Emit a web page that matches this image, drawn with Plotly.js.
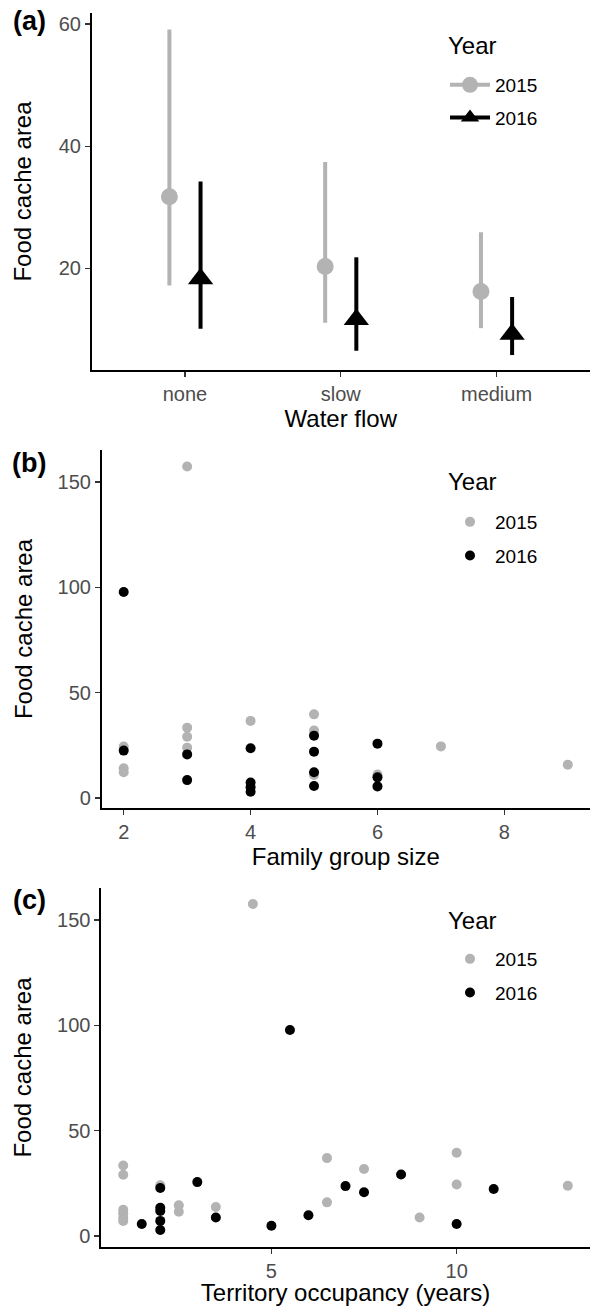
<!DOCTYPE html>
<html>
<head>
<meta charset="utf-8">
<script src="https://cdn.plot.ly/plotly-3.0.1.min.js"></script>
<style>html,body{margin:0;padding:0;background:#fff}#chart{width:590px;height:1306px}</style>
</head>
<body>
<div id="chart"></div>
<script>
// ---------- Panel (a): food cache area by water flow ----------
const flowLevels = ['none', 'slow', 'medium'];
const mean2015 = [31.7, 20.3, 16.2];
const lo2015   = [17.2, 11.1, 10.2];
const hi2015   = [59.1, 37.4, 25.9];
const mean2016 = [18.3, 11.6, 9.2];
const lo2016   = [10.1, 6.5, 5.8];
const hi2016   = [34.2, 21.8, 15.3];

// ---------- Panel (b): family group size ----------
const fam2015x = [2, 2, 2, 3, 3, 3, 3, 4, 5, 5, 5, 6, 7, 9];
const fam2015y = [24.4, 14.1, 12.2, 157.4, 33.4, 29.1, 23.9, 36.6, 39.7, 32.0, 10.9, 11.1, 24.5, 15.8];
const fam2016x = [2, 2, 3, 3, 4, 4, 4, 4, 5, 5, 5, 5, 6, 6, 6];
const fam2016y = [97.8, 22.5, 20.7, 8.5, 23.6, 7.3, 5.1, 3.0, 29.6, 22.0, 12.2, 5.7, 25.8, 9.8, 5.5];

// ---------- Panel (c): territory occupancy ----------
const occ2015x = [1, 1, 1, 1, 1, 1, 2, 2.5, 2.5, 3.5, 4.5, 6.5, 6.5, 7.5, 9, 10, 10, 13];
const occ2015y = [33.5, 29.1, 12.5, 10.8, 8.7, 7.2, 24.1, 14.6, 11.5, 13.8, 157.6, 37.0, 16.0, 31.8, 8.8, 39.5, 24.5, 23.9];
const occ2016x = [1.5, 2, 2, 2, 2, 2, 3, 3.5, 5, 5.5, 6, 7, 7.5, 8.5, 10, 11];
const occ2016y = [5.7, 22.8, 13.4, 11.9, 7.2, 2.9, 25.6, 8.8, 4.9, 97.8, 9.9, 23.7, 20.8, 29.2, 5.7, 22.3];

const years = ['2015', '2016'];
const legendTitle = 'Year';
const GREY = '#b3b3b3', BLACK = '#000000';

const W = 590, H = 1306;
const px = p => p / W;
const py = p => 1 - p / H;
const FONT = 'Liberation Sans, Arial, Helvetica, sans-serif';

const idx = flowLevels.map((_, i) => i);
const traces = [
  {
    x: idx.map(i => i - 0.1), y: mean2015, type: 'scatter', mode: 'markers',
    marker: {color: GREY, size: 17, symbol: 'circle'},
    error_y: {type: 'data', symmetric: false,
      array: hi2015.map((h, i) => h - mean2015[i]),
      arrayminus: lo2015.map((l, i) => mean2015[i] - l),
      color: GREY, thickness: 4, width: 0},
    xaxis: 'x', yaxis: 'y', showlegend: false, hoverinfo: 'skip'
  },
  {
    x: idx.map(i => i + 0.1), y: mean2016, type: 'scatter', mode: 'markers',
    marker: {color: BLACK, size: 22, symbol: 'triangle-up'},
    error_y: {type: 'data', symmetric: false,
      array: hi2016.map((h, i) => h - mean2016[i]),
      arrayminus: lo2016.map((l, i) => mean2016[i] - l),
      color: BLACK, thickness: 4, width: 0},
    xaxis: 'x', yaxis: 'y', showlegend: false, hoverinfo: 'skip'
  },
  // legend keys for panel (a)
  {x: [null], y: [null], type: 'scatter', mode: 'lines+markers', name: years[0],
   marker: {color: GREY, size: 16, symbol: 'circle'}, line: {color: GREY, width: 4},
   xaxis: 'x', yaxis: 'y', legend: 'legend', legendgroup: 'a1'},
  {x: [null], y: [null], type: 'scatter', mode: 'lines+markers', name: years[1],
   marker: {color: BLACK, size: 16, symbol: 'triangle-up'}, line: {color: BLACK, width: 4},
   xaxis: 'x', yaxis: 'y', legend: 'legend', legendgroup: 'a2'},

  {x: fam2015x, y: fam2015y, type: 'scatter', mode: 'markers', name: years[0],
   marker: {color: GREY, size: 10}, xaxis: 'x2', yaxis: 'y2', legend: 'legend2', legendgroup: 'b1'},
  {x: fam2016x, y: fam2016y, type: 'scatter', mode: 'markers', name: years[1],
   marker: {color: BLACK, size: 10}, xaxis: 'x2', yaxis: 'y2', legend: 'legend2', legendgroup: 'b2'},

  {x: occ2015x, y: occ2015y, type: 'scatter', mode: 'markers', name: years[0],
   marker: {color: GREY, size: 10}, xaxis: 'x3', yaxis: 'y3', legend: 'legend3', legendgroup: 'c1'},
  {x: occ2016x, y: occ2016y, type: 'scatter', mode: 'markers', name: years[1],
   marker: {color: BLACK, size: 10}, xaxis: 'x3', yaxis: 'y3', legend: 'legend3', legendgroup: 'c2'}
];

const axisCommon = {
  showline: true, linecolor: '#000', linewidth: 1.6, mirror: false,
  ticks: 'outside', ticklen: 5, tickwidth: 1.3, tickcolor: '#333',
  showgrid: false, zeroline: false, automargin: false, fixedrange: true,
  tickfont: {family: FONT, size: 20, color: '#4d4d4d'}
};
const titleFont = {family: FONT, size: 24, color: '#000'};

function legendAt(top, gap) {
  return {
    x: px(445), y: py(top), xanchor: 'left', yanchor: 'top',
    bgcolor: 'rgba(0,0,0,0)', borderwidth: 0, tracegroupgap: gap, itemwidth: 40,
    font: {family: FONT, size: 19, color: '#000'}
  };
}
function label(text, xPix, yPix, size, bold, anchor) {
  return {text: bold ? '<b>' + text + '</b>' : text, x: px(xPix), y: py(yPix),
    xref: 'paper', yref: 'paper', showarrow: false,
    xanchor: anchor, yanchor: 'middle', font: {family: FONT, size: size, color: '#000'}};
}

const layout = {
  width: W, height: H,
  margin: {l: 0, r: 0, t: 0, b: 0},
  paper_bgcolor: '#fff', plot_bgcolor: '#fff',
  font: {family: FONT, color: '#000'},
  showlegend: true,
  xaxis: Object.assign({}, axisCommon, {
    domain: [px(91.5), 1], range: [-0.6, 2.6], tickvals: idx, ticktext: flowLevels, anchor: 'y',
    title: {text: 'Water flow', font: titleFont, standoff: 1}
  }),
  yaxis: Object.assign({}, axisCommon, {
    domain: [py(370), py(13)], range: [3.35, 61.8], tickvals: [20, 40, 60], anchor: 'x',
    title: {text: 'Food cache area', font: titleFont, standoff: 20}
  }),
  xaxis2: Object.assign({}, axisCommon, {
    domain: [px(101.5), 1], range: [1.65, 9.35], tickvals: [2, 4, 6, 8], anchor: 'y2',
    title: {text: 'Family group size', font: titleFont, standoff: 1}
  }),
  yaxis2: Object.assign({}, axisCommon, {
    domain: [py(808), py(450)], range: [-4.75, 165.2], tickvals: [0, 50, 100, 150], anchor: 'x2',
    title: {text: 'Food cache area', font: titleFont, standoff: 18}
  }),
  xaxis3: Object.assign({}, axisCommon, {
    domain: [px(101), 1], range: [0.4, 13.6], tickvals: [5, 10], anchor: 'y3',
    title: {text: 'Territory occupancy (years)', font: titleFont, standoff: 1}
  }),
  yaxis3: Object.assign({}, axisCommon, {
    domain: [py(1247), py(888)], range: [-5.2, 165.2], tickvals: [0, 50, 100, 150], anchor: 'x3',
    title: {text: 'Food cache area', font: titleFont, standoff: 18}
  }),
  legend: legendAt(66, 5),
  legend2: legendAt(503, 6),
  legend3: legendAt(940, 6),
  annotations: [
    label('(a)', 29, 21, 27, true, 'center'),
    label('(b)', 29, 463, 27, true, 'center'),
    label('(c)', 29, 900, 27, true, 'center'),
    label(legendTitle, 446, 45, 24, false, 'left'),
    label(legendTitle, 446, 482, 24, false, 'left'),
    label(legendTitle, 446, 920, 24, false, 'left')
  ]
};

Plotly.newPlot('chart', traces, layout, {displayModeBar: false, staticPlot: true});
</script>
</body>
</html>
